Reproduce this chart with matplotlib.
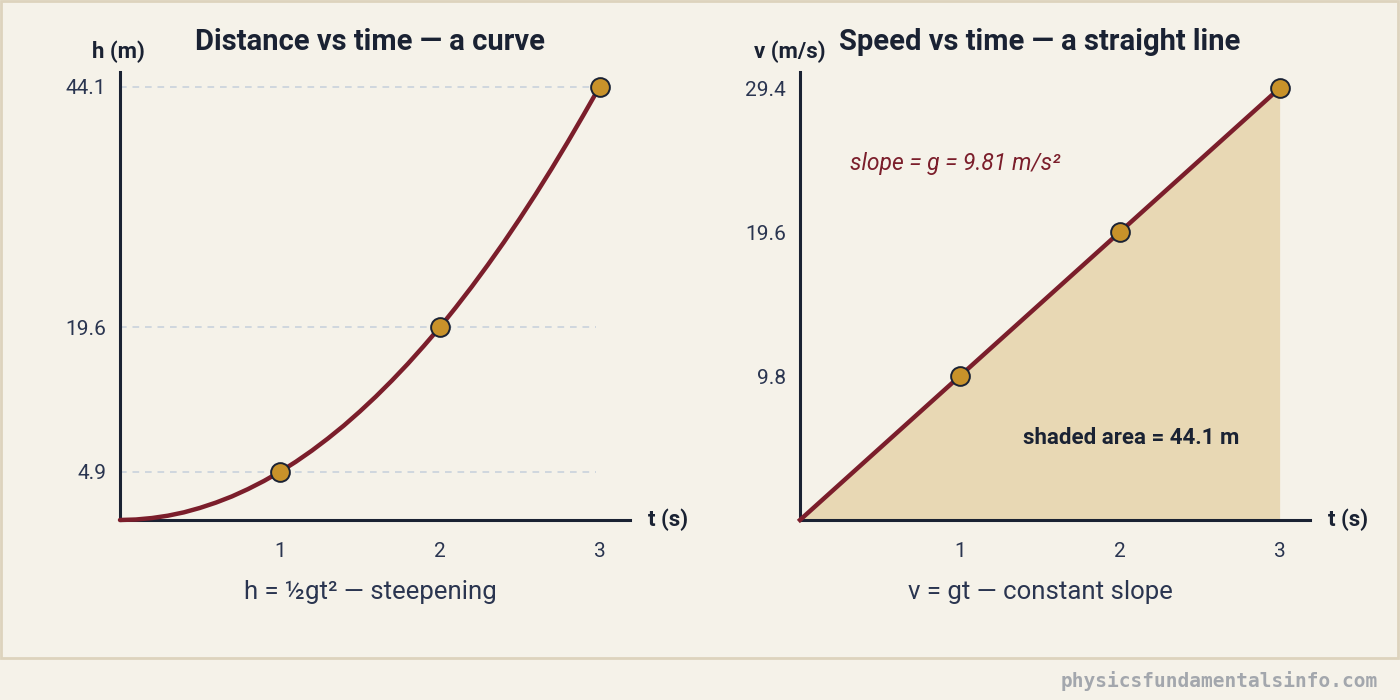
import numpy as np
import matplotlib
matplotlib.use("Agg")
import matplotlib.pyplot as plt
from matplotlib.patches import Rectangle

# data
t_pts = [1, 2, 3]
h_pts = [4.9, 19.6, 44.1]
v_pts = [9.8, 19.6, 29.4]
t_curve = [0, 0.1, 0.2, 0.3, 0.4, 0.5, 0.6, 0.7, 0.8, 0.9, 1.0,
           1.1, 1.2, 1.3, 1.4, 1.5, 1.6, 1.7, 1.8, 1.9, 2.0,
           2.1, 2.2, 2.3, 2.4, 2.5, 2.6, 2.7, 2.8, 2.9, 3.0]
h_curve = [0, 0.05, 0.2, 0.44, 0.78, 1.23, 1.77, 2.4, 3.14, 3.97, 4.9,
           5.93, 7.06, 8.29, 9.61, 11.04, 12.56, 14.18, 15.89, 17.71, 19.6,
           21.63, 23.74, 25.95, 28.25, 30.66, 33.16, 35.76, 38.46, 41.25, 44.1]
t_line = [0, 1, 2, 3]
v_line = [0, 9.8, 19.6, 29.4]
x_ticks = [1, 2, 3]
h_ticks = [4.9, 19.6, 44.1]
v_ticks = [9.8, 19.6, 29.4]

BG = "#f5f2e9"
BORDER = "#ddd3bd"
INK = "#1a2233"
TICK = "#2a3550"
MAROON = "#7b1e2b"
GOLD = "#c8922a"
FILL = "#e8d8b4"
GRID = "#c9d2dc"

plt.rcParams['font.family'] = ['Roboto', 'DejaVu Sans']

fig = plt.figure(figsize=(14, 7), dpi=100, facecolor=BG)
fig.patches.append(Rectangle((1 / 1400, 42 / 700), 1397 / 1400, 657 / 700,
                             transform=fig.transFigure, facecolor=BG,
                             edgecolor=BORDER, linewidth=2, zorder=-10))


def make_axes(left_px):
    ax = fig.add_axes([left_px / 1400, 180 / 700, 510 / 1400, 448 / 700])
    ax.set_facecolor("none")
    for s in ["top", "right"]:
        ax.spines[s].set_visible(False)
    for s in ["left", "bottom"]:
        ax.spines[s].set_color(INK)
        ax.spines[s].set_linewidth(2.2)
    ax.set_xlim(0, 3.19)
    ax.set_xticks(x_ticks)
    ax.set_xticklabels([str(x) for x in x_ticks])
    ax.tick_params(length=0, labelsize=15, colors=TICK, pad=16)
    ax.tick_params(axis="y", pad=10)
    return ax


# left panel: distance vs time
ax1 = make_axes(120)
ax1.set_ylim(0, 45.6)
ax1.set_yticks(h_ticks)
ax1.set_yticklabels([str(v) for v in h_ticks])
for y in h_ticks:
    ax1.plot([0, 2.98], [y, y], color=GRID, lw=1.2, ls=(0, (4, 3.5)), zorder=1)
ax1.plot(t_curve, h_curve, color=MAROON, lw=3.2, solid_capstyle="round",
         solid_joinstyle="round", zorder=3, clip_on=False)
ax1.plot(t_pts, h_pts, "o", ms=13.5, mfc=GOLD, mec=INK, mew=1.4, zorder=4,
         clip_on=False)

# right panel: speed vs time
ax2 = make_axes(800)
ax2.set_ylim(0, 30.5)
ax2.set_yticks(v_ticks)
ax2.set_yticklabels([str(v) for v in v_ticks])
ax2.fill_between(t_line, 0, v_line, color=FILL, lw=0, zorder=1)
ax2.plot(t_line, v_line, color=MAROON, lw=3.2, zorder=3, clip_on=False)
ax2.plot(t_pts, v_pts, "o", ms=13.5, mfc=GOLD, mec=INK, mew=1.4, zorder=4,
         clip_on=False)
ax2.text(0.31, 24.3, "slope = g = 9.81 m/s²", color=MAROON, fontsize=16.5,
         style="italic", ha="left", va="center")
ax2.text(2.07, 5.6, "shaded area = 44.1 m", color=INK, fontsize=16,
         fontweight="bold", ha="center", va="center")

# titles, axis names, captions
def ftext(x, y, s, **kw):
    fig.text(x / 1400, 1 - y / 700, s, **kw)

ftext(370, 42, "Distance vs time — a curve", fontsize=21, fontweight="bold",
      color=INK, ha="center", va="center")
ftext(1040, 42, "Speed vs time — a straight line", fontsize=21,
      fontweight="bold", color=INK, ha="center", va="center")
ftext(118, 52, "h (m)", fontsize=16, fontweight="bold", color=INK,
      ha="center", va="center")
ftext(790, 52, "v (m/s)", fontsize=16, fontweight="bold", color=INK,
      ha="center", va="center")
ftext(648, 520, "t (s)", fontsize=16, fontweight="bold", color=INK,
      ha="left", va="center")
ftext(1328, 520, "t (s)", fontsize=16, fontweight="bold", color=INK,
      ha="left", va="center")
ftext(370, 592, "h = ½gt² — steepening", fontsize=18.5, color=TICK,
      ha="center", va="center")
ftext(1040, 592, "v = gt — constant slope", fontsize=18.5, color=TICK,
      ha="center", va="center")
ftext(1378, 681, "physicsfundamentalsinfo.com", fontsize=14,
      family="DejaVu Sans Mono", fontweight="bold", color="#a3a7ad",
      ha="right", va="center")

fig.savefig("out.png", dpi=100, facecolor=BG)
